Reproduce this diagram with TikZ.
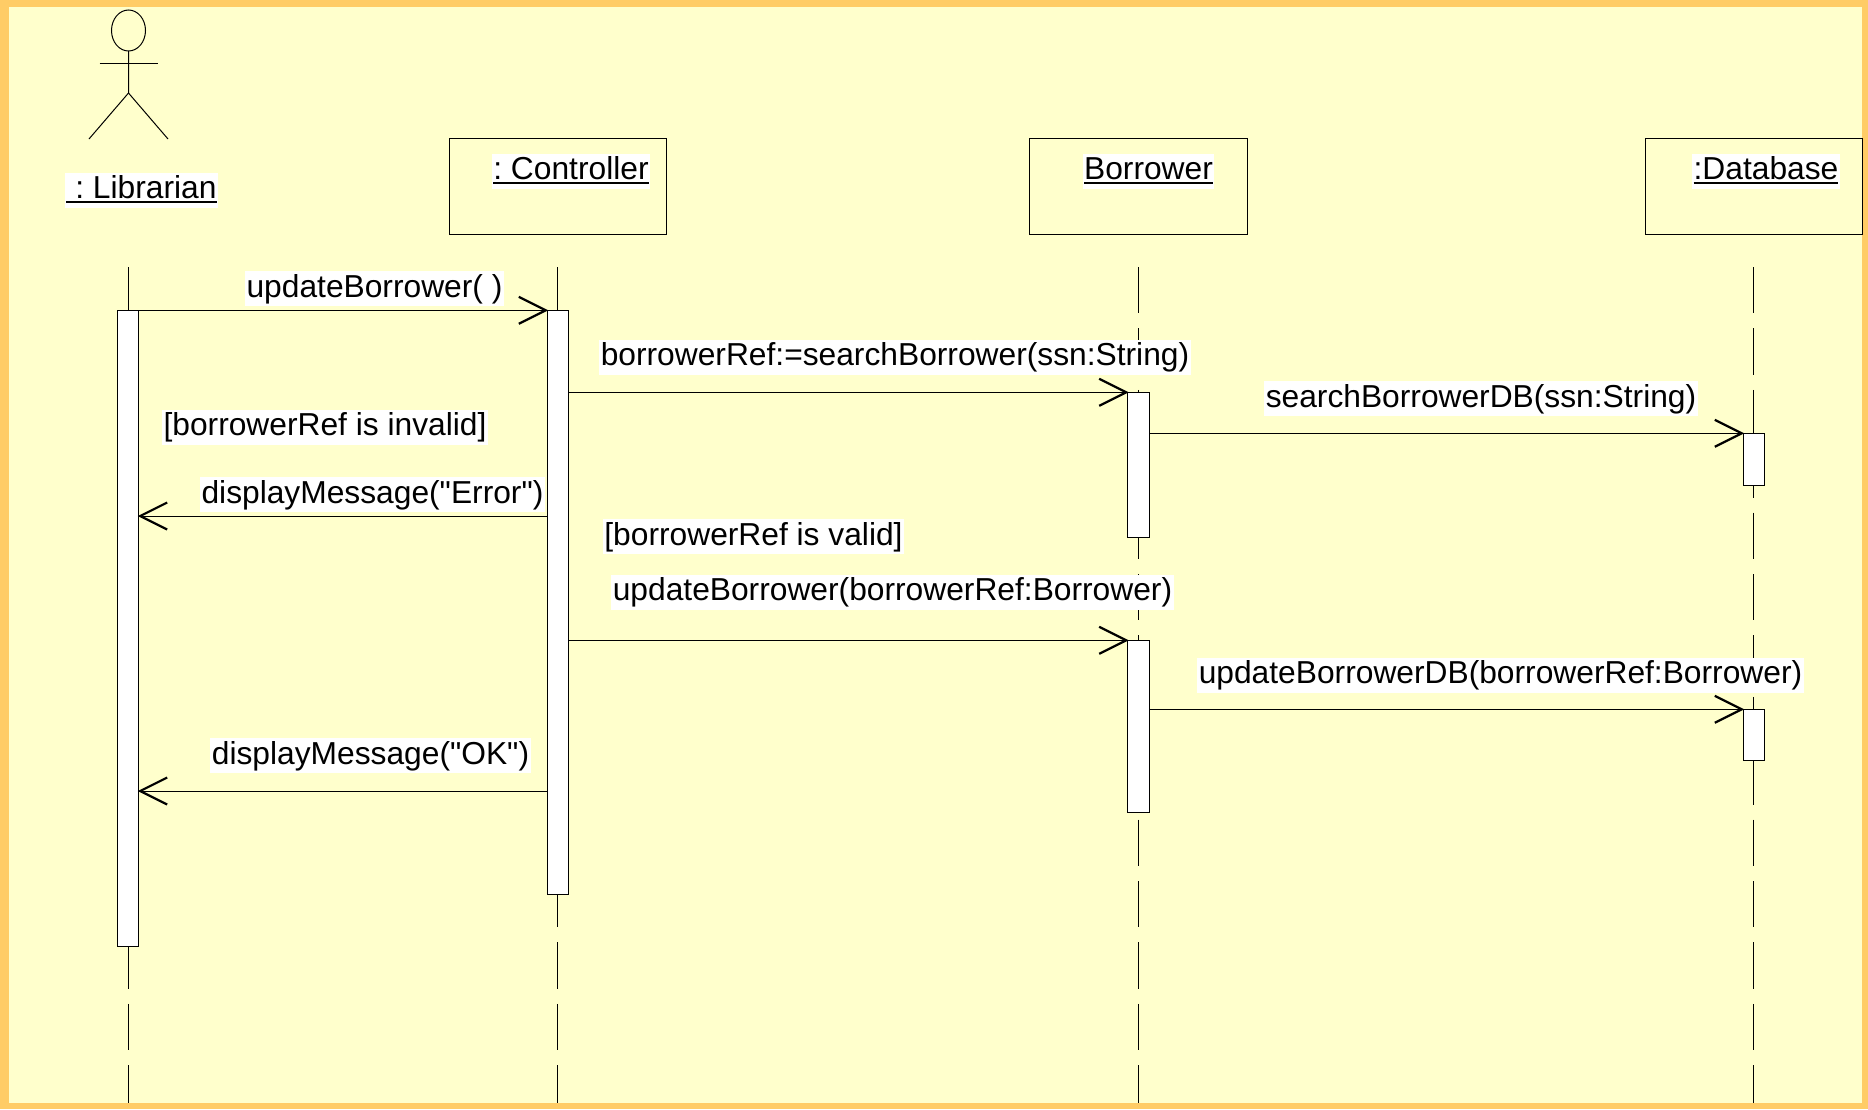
\documentclass[tikz,border=0pt]{standalone}
\usepackage{fontspec}
\setmainfont{Liberation Sans}[Ligatures=TeXOff]
\usetikzlibrary{arrows.meta}
\definecolor{frameorange}{HTML}{FFCC66}
\definecolor{paperyellow}{HTML}{FFFFCC}
\newcommand{\headtext}[1]{\setbox0=\hbox{#1}\rlap{\rule[-4.5pt]{\wd0}{2.4pt}}\box0}
\tikzset{
  textlabel/.style={fill=white,inner xsep=1.5pt,inner ysep=1pt,text height=25pt,text depth=8pt,font=\fontsize{31.75}{38}\selectfont\frenchspacing},
  objbox/.style={draw,line width=1pt,minimum width=217pt,minimum height=96pt,inner sep=0pt},
  activation/.style={draw,fill=white,line width=1pt,minimum width=21.5pt,inner sep=0pt},
  lifeline/.style={line width=0.8pt,dash pattern=on 46.4pt off 15pt},
  msg/.style={line width=1pt,shorten >=-1.5pt,-{Straight Barb[length=27pt,width=27pt,line width=2.2pt]}},
}
\begin{document}
\begin{tikzpicture}[x=1pt,y=-1pt]
    \useasboundingbox (0,0) rectangle (1868,1109);
    \fill [frameorange] (0,0) rectangle (1868,1109);
    \fill [paperyellow] (9,7) rectangle (1862,1103);
    % the actor
    \draw [line width=1pt] (128.5,30.5) ellipse (17 and 20.5);
    \draw [line width=1pt] (128.5,51) -- (128.5,93) -- (89,139);
    \draw [line width=1pt] (128.5,93) -- (168,139);
    \draw [line width=1pt] (99.5,63.5) -- (157.5,63.5);
    \node [textlabel] (libLabel) at (141.5,190) {\headtext{\ : Librarian}};
    % the objects
    \node [objbox] (ctrlBox) at (557.8,186) {};
    \node [objbox,minimum width=218pt] (borBox) at (1138,186) {};
    \node [objbox] (dbBox) at (1753.5,186) {};
    \node [textlabel] (ctrlLabel) at (571,171) {\headtext{: Controller}};
    \node [textlabel] (borLabel) at (1148.5,171) {\headtext{Borrower}};
    \node [textlabel] (dbLabel) at (1766,171) {\headtext{:Database}};
    % lifelines
    \coordinate (libTop) at (128.5,267);
    \coordinate (libEnd) at (128.5,1103);
    \coordinate (ctrlTop) at (557.8,267);
    \coordinate (ctrlEnd) at (557.8,1103);
    \coordinate (borTop) at (1138.4,267);
    \coordinate (borEnd) at (1138.4,1103);
    \coordinate (dbTop) at (1753.6,267);
    \coordinate (dbEnd) at (1753.6,1103);
    \draw [lifeline] (libTop) -- (libEnd);
    \draw [lifeline] (ctrlTop) -- (ctrlEnd);
    \draw [lifeline] (borTop) -- (borEnd);
    \draw [lifeline] (dbTop) -- (dbEnd);
    % activation bars
    \node [activation,minimum height=635.2pt] (libBar) at (128,628.4) {};
    \node [activation,minimum height=583.2pt] (ctrlBar) at (558,602.4) {};
    \node [activation,minimum height=144.2pt] (borBarA) at (1138.4,464.9) {};
    \node [activation,minimum height=51.2pt] (dbBarA) at (1754,459.4) {};
    \node [activation,minimum height=171.2pt] (borBarB) at (1138.4,726.4) {};
    \node [activation,minimum height=50.2pt] (dbBarB) at (1754,734.9) {};
    % labels
    \node [textlabel] (callUpdate) at (374.5,288.5) {updateBorrower( )};
    \node [textlabel] (callSearch) at (895,357) {borrowerRef:=searchBorrower(ssn:String)};
    \node [textlabel] (callSearchDB) at (1481,398.5) {searchBorrowerDB(ssn:String)};
    \node [textlabel] (guardInvalid) at (325,427) {[borrowerRef is invalid]};
    \node [textlabel] (callError) at (372.5,494.5) {displayMessage("Error")};
    \node [textlabel] (guardValid) at (753.5,536.5) {[borrowerRef is valid]};
    \node [textlabel] (callUpdateRef) at (892.5,592) {updateBorrower(borrowerRef:Borrower)};
    \node [textlabel] (callUpdateDB) at (1500.5,675) {updateBorrowerDB(borrowerRef:Borrower)};
    \node [textlabel] (callOK) at (370.5,755.5) {displayMessage("OK")};
    % messages
    \coordinate (errorLevel) at (0,516);
    \coordinate (okLevel) at (0,791);
    \draw [msg] (libBar.north east) -- (ctrlBar.north west);
    \draw [msg] (ctrlBar.east |- borBarA.north) -- (borBarA.north west);
    \draw [msg] (borBarA.east |- dbBarA.north) -- (dbBarA.north west);
    \draw [msg] (ctrlBar.west |- errorLevel) -- (libBar.east |- errorLevel);
    \draw [msg] (ctrlBar.east |- borBarB.north) -- (borBarB.north west);
    \draw [msg] (borBarB.east |- dbBarB.north) -- (dbBarB.north west);
    \draw [msg] (ctrlBar.west |- okLevel) -- (libBar.east |- okLevel);
\end{tikzpicture}
\end{document}
